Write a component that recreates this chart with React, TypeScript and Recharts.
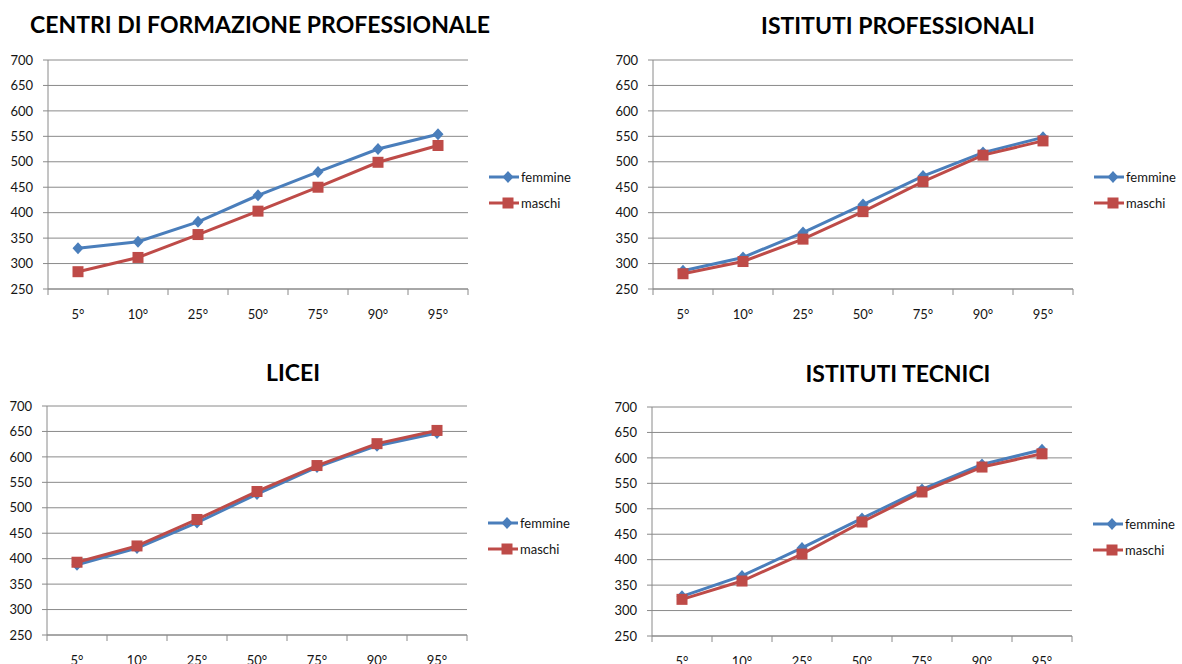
import React from 'react'
import { LineChart, Line, XAxis, YAxis, CartesianGrid, Legend } from 'recharts'

// percentili sull'asse X, punteggi sull'asse Y
const categories = ['5°', '10°', '25°', '50°', '75°', '90°', '95°']
const yTicks = [250, 300, 350, 400, 450, 500, 550, 600, 650, 700]
// tacche tra una categoria e l'altra (stile Excel)
const xTicks = [-0.5, 0, 0.5, 1, 1.5, 2, 2.5, 3, 3.5, 4, 4.5, 5, 5.5, 6, 6.5]

const cfpFemmine = [330, 343, 382, 434, 480, 525, 554]
const cfpMaschi = [284, 312, 357, 403, 450, 499, 532]

const ipFemmine = [286, 312, 361, 416, 472, 518, 548]
const ipMaschi = [280, 304, 348, 402, 461, 513, 541]

const liceiFemmine = [388, 421, 471, 527, 580, 622, 647]
const liceiMaschi = [393, 425, 477, 532, 583, 626, 652]

const itFemmine = [328, 368, 423, 481, 538, 587, 616]
const itMaschi = [322, 358, 411, 474, 533, 582, 608]

const BLUE = '#4a7ebb'
const RED = '#be4b48'
const GRID = '#8a8a8a'
const TEXT = '#141414'
const FONT = 'Lato, "Liberation Sans", sans-serif'

const Diamond = (props: any) => {
  const { cx, cy, index } = props
  if (cx == null || cy == null) return <g key={index} />
  return (
    <polygon
      key={index}
      points={`${cx},${cy - 6} ${cx + 5.5},${cy} ${cx},${cy + 6} ${cx - 5.5},${cy}`}
      fill={BLUE}
    />
  )
}

const Square = (props: any) => {
  const { cx, cy, index } = props
  if (cx == null || cy == null) return <g key={index} />
  return <rect key={index} x={cx - 5.5} y={cy - 5.5} width={11} height={11} fill={RED} />
}

const CatTick = (props: any) => {
  const { x, y, payload } = props
  const v = payload.value
  if (Number.isInteger(v)) {
    return (
      <text x={x} y={y + 24} textAnchor="middle" fill={TEXT} fontSize={13} fontFamily={FONT}>
        {categories[v]}
      </text>
    )
  }
  return <line x1={x} x2={x} y1={y - 6} y2={y} stroke={GRID} />
}

const LegendBox = (props: any) => {
  const { payload } = props
  return (
    <div style={{ fontFamily: FONT, fontSize: 13, color: TEXT }}>
      {(payload || []).map((entry: any) => (
        <div key={entry.value} style={{ display: 'flex', alignItems: 'center', height: 26 }}>
          <svg width={32} height={14} style={{ display: 'block' }}>
            <line x1={0} x2={30} y1={7} y2={7} stroke={entry.color} strokeWidth={3} />
            {entry.dataKey === 'femmine' ? (
              <polygon points="19,1 24.5,7 19,13 13.5,7" fill={entry.color} />
            ) : (
              <rect x={13.5} y={1.5} width={11} height={11} fill={entry.color} />
            )}
          </svg>
          <span>{entry.value}</span>
        </div>
      ))}
    </div>
  )
}

interface PanelProps {
  title: string
  titleX: number
  titleY: number
  femmine: number[]
  maschi: number[]
  x: number
  y: number
}

const Panel = ({ title, titleX, titleY, femmine, maschi, x, y }: PanelProps) => {
  const rows = categories.map((cat, i) => ({ i, cat, femmine: femmine[i], maschi: maschi[i] }))
  return (
    <div style={{ position: 'absolute', left: x, top: y, width: 590, height: 330 }}>
      <LineChart width={590} height={330} data={rows} margin={{ top: 60, right: 122, bottom: 11, left: 0 }}>
        <CartesianGrid vertical={false} stroke={GRID} />
        <XAxis
          dataKey="i"
          type="number"
          domain={[-0.5, 6.5]}
          ticks={xTicks}
          interval={0}
          tickLine={false}
          tickSize={6}
          tickMargin={0}
          height={30}
          axisLine={{ stroke: GRID }}
          tick={CatTick}
        />
        <YAxis
          domain={[250, 700]}
          ticks={yTicks}
          interval={0}
          width={48}
          tickSize={5}
          tickMargin={10}
          tickLine={{ stroke: GRID }}
          axisLine={{ stroke: GRID }}
          tick={{ fill: TEXT, fontSize: 13, fontFamily: FONT }}
        />
        <Legend
          layout="horizontal"
          verticalAlign="middle"
          align="center"
          wrapperStyle={{ left: 489, top: 164, width: 100 }}
          content={LegendBox}
        />
        <Line
          dataKey="femmine"
          name="femmine"
          stroke={BLUE}
          strokeWidth={3}
          dot={Diamond}
          isAnimationActive={false}
        />
        <Line
          dataKey="maschi"
          name="maschi"
          stroke={RED}
          strokeWidth={3}
          dot={Square}
          isAnimationActive={false}
        />
      </LineChart>
      <div
        style={{
          position: 'absolute',
          left: titleX,
          top: titleY,
          transform: 'translate(-50%, -50%)',
          whiteSpace: 'nowrap',
          fontFamily: FONT,
          fontWeight: 700,
          fontSize: 23,
          color: '#000',
        }}
      >
        {title}
      </div>
    </div>
  )
}

export default function App() {
  return (
    <div
      style={{
        position: 'absolute',
        left: 0,
        top: 0,
        width: 1182,
        height: 664,
        overflow: 'hidden',
        background: '#fff',
      }}
    >
      <Panel title="CENTRI DI FORMAZIONE PROFESSIONALE" titleX={260} titleY={24} femmine={cfpFemmine} maschi={cfpMaschi} x={0} y={0} />
      <Panel title="ISTITUTI PROFESSIONALI" titleX={293} titleY={25} femmine={ipFemmine} maschi={ipMaschi} x={605} y={0} />
      <Panel title="LICEI" titleX={294} titleY={26} femmine={liceiFemmine} maschi={liceiMaschi} x={-1} y={346} />
      <Panel title="ISTITUTI TECNICI" titleX={294} titleY={26} femmine={itFemmine} maschi={itMaschi} x={604} y={347} />
    </div>
  )
}
